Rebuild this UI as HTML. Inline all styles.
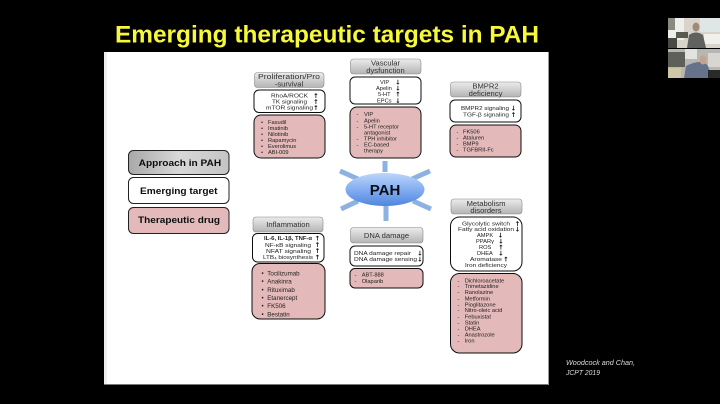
<!DOCTYPE html>
<html><head><meta charset="utf-8"><style>
html,body{margin:0;padding:0;background:#000;width:720px;height:404px;overflow:hidden}
svg{display:block}
text{font-family:"Liberation Sans",sans-serif;fill:#222}
.s{font-size:5.7px}.m{font-size:6.2px}.h{font-size:7.6px;fill:#333;text-anchor:middle}
.c{text-anchor:middle}.a{font-size:6.5px;font-weight:bold;text-anchor:middle;fill:#111;font-family:"DejaVu Sans",sans-serif}
.l{font-size:9px;font-weight:bold;fill:#111}
</style></head><body>
<svg width="720" height="404" viewBox="0 0 720 404" xmlns="http://www.w3.org/2000/svg">
<defs>
<linearGradient id="g" x1="0" y1="0" x2="0" y2="1"><stop offset="0" stop-color="#ececec"/><stop offset="1" stop-color="#b4b4b4"/></linearGradient>
<linearGradient id="g2" x1="0" y1="0" x2="1" y2="0"><stop offset="0" stop-color="#a8a8a8"/><stop offset=".5" stop-color="#d8d8d8"/><stop offset="1" stop-color="#c4c4c4"/></linearGradient>
<linearGradient id="b" x1="0" y1="0" x2="0" y2="1"><stop offset="0" stop-color="#bcd6f8"/><stop offset=".55" stop-color="#7eaaf0"/><stop offset="1" stop-color="#4f86dc"/></linearGradient>
<filter id="bl" x="-2%" y="-2%" width="104%" height="104%"><feGaussianBlur stdDeviation="0.3"/></filter>
</defs>
<rect width="720" height="404" fill="#000"/>
<text x="115" y="42.500" font-size="24" font-weight="bold" style="fill:#f8f83a" textLength="424" lengthAdjust="spacingAndGlyphs">Emerging therapeutic targets in PAH</text>
<rect x="104" y="52" width="444.500" height="333" fill="#fff"/>
<rect x="104" y="52" width="3" height="332" fill="#eee"/>
<rect x="104" y="384" width="445" height="1" fill="#777"/>
<rect x="548" y="52" width="1" height="333" fill="#999"/>

<g filter="url(#bl)">
<!-- legend -->
<rect x="128.500" y="150.500" width="100.500" height="24" rx="5" fill="url(#g2)" stroke="#222"/>
<rect x="128.500" y="177.500" width="100.500" height="26" rx="5" fill="#fff" stroke="#222"/>
<rect x="128.500" y="207.500" width="100.500" height="26" rx="5" fill="#e3b9b9" stroke="#222"/>
<text class="l" x="138.700" y="165.800" textLength="82.500" lengthAdjust="spacingAndGlyphs">Approach in PAH</text>
<text class="l" x="140" y="194" textLength="77.500" lengthAdjust="spacingAndGlyphs">Emerging target</text>
<text class="l" x="138" y="223" textLength="82" lengthAdjust="spacingAndGlyphs">Therapeutic drug</text>

<!-- Proliferation -->
<rect x="254.500" y="72.500" width="69.500" height="15" rx="3" fill="url(#g)" stroke="#888" stroke-width=".6"/>
<text class="h" x="289" y="79" textLength="62" lengthAdjust="spacingAndGlyphs">Proliferation/Pro</text>
<text class="h" x="289" y="86.500">-survival</text>
<rect x="254" y="90" width="71" height="22.500" rx="5" fill="#fff" stroke="#111"/>
<text class="s" x="271" y="97.500" textLength="37" lengthAdjust="spacingAndGlyphs">RhoA/ROCK</text><text class="a" x="316" y="98">↑</text>
<text class="s" x="272" y="103.500" textLength="35" lengthAdjust="spacingAndGlyphs">TK signaling</text><text class="a" x="316" y="104">↑</text>
<text class="s" x="266" y="109.500" textLength="47" lengthAdjust="spacingAndGlyphs">mTOR signaling</text><text class="a" x="316" y="110">↑</text>
<rect x="254" y="115" width="71" height="43" rx="7" fill="#e3b9b9" stroke="#111"/>
<g class="s">
<text class="s" x="261" y="124">•</text><text class="s" x="268" y="124">Fasudil</text>
<text class="s" x="261" y="130">•</text><text class="s" x="268" y="130">Imatinib</text>
<text class="s" x="261" y="136">•</text><text class="s" x="268" y="136">Nilotinib</text>
<text class="s" x="261" y="142">•</text><text class="s" x="268" y="142">Rapamycin</text>
<text class="s" x="261" y="148">•</text><text class="s" x="268" y="148">Everolimus</text>
<text class="s" x="261" y="154">•</text><text class="s" x="268" y="154">ABI-009</text>
</g>

<!-- Vascular -->
<rect x="350.500" y="59" width="70.500" height="15" rx="3" fill="url(#g)" stroke="#888" stroke-width=".6"/>
<text class="h" x="385.500" y="65.500">Vascular</text>
<text class="h" x="385.500" y="73">dysfunction</text>
<rect x="350" y="77" width="71" height="27" rx="5" fill="#fff" stroke="#111"/>
<text class="s" x="380" y="84">VIP</text><text class="a" x="398" y="84.500">↓</text>
<text class="s" x="376" y="90">Apelin</text><text class="a" x="398" y="90.500">↓</text>
<text class="s" x="378" y="96">5-HT</text><text class="a" x="398" y="96.500">↑</text>
<text class="s" x="377" y="102.300">EPCs</text><text class="a" x="398" y="102.800">↓</text>
<rect x="350" y="107" width="71" height="51" rx="7" fill="#e3b9b9" stroke="#111"/>
<text class="s" x="356.500" y="116">-</text><text class="s" x="364" y="116">VIP</text>
<text class="s" x="356.500" y="122.700">-</text><text class="s" x="364" y="122.700">Apelin</text>
<text class="s" x="356.500" y="128.700">-</text><text class="s" x="364" y="128.700">5-HT receptor</text>
<text class="s" x="364" y="134.700">antagonist</text>
<text class="s" x="356.500" y="140.700">-</text><text class="s" x="364" y="140.700">TPH inhibitor</text>
<text class="s" x="356.500" y="146.700">-</text><text class="s" x="364" y="146.700">EC-based</text>
<text class="s" x="364" y="152.700">therapy</text>

<!-- BMPR2 -->
<rect x="450.500" y="82" width="70.500" height="15" rx="3" fill="url(#g)" stroke="#888" stroke-width=".6"/>
<text class="h" x="485.500" y="88.500">BMPR2</text>
<text class="h" x="485.500" y="96">deficiency</text>
<rect x="450" y="100" width="71" height="22" rx="5" fill="#fff" stroke="#111"/>
<text class="s" x="461" y="110" textLength="48" lengthAdjust="spacingAndGlyphs">BMPR2 signaling</text><text class="a" x="513.500" y="110.500">↓</text>
<text class="s" x="463" y="116.300" textLength="46" lengthAdjust="spacingAndGlyphs">TGF-β signaling</text><text class="a" x="513.500" y="116.800">↑</text>
<rect x="450" y="125" width="71" height="32" rx="6" fill="#e3b9b9" stroke="#111"/>
<text class="s" x="456.500" y="133.300">-</text><text class="s" x="463" y="133.300">FK506</text>
<text class="s" x="456.500" y="139.500">-</text><text class="s" x="463" y="139.500">Ataluren</text>
<text class="s" x="456.500" y="145.700">-</text><text class="s" x="463" y="145.700">BMP9</text>
<text class="s" x="456.500" y="151.700">-</text><text class="s" x="463" y="151.700">TGFBRII-Fc</text>

<!-- PAH -->
<g stroke="#8db2e2" stroke-width="5" fill="none">
<line x1="385" y1="161" x2="385" y2="172"/>
<line x1="340" y1="171" x2="358" y2="179"/>
<line x1="430" y1="171" x2="412" y2="179"/>
<line x1="341" y1="209" x2="358" y2="201"/>
<line x1="431" y1="209" x2="413" y2="201"/>
<line x1="386" y1="204" x2="386" y2="221"/>
</g>
<ellipse cx="385" cy="189.500" rx="39.500" ry="16.500" fill="url(#b)"/>
<text x="385" y="195" font-size="15" font-weight="bold" text-anchor="middle" style="fill:#0c0c18">PAH</text>

<!-- Inflammation -->
<rect x="253" y="217" width="70" height="15" rx="3" fill="url(#g)" stroke="#888" stroke-width=".6"/>
<text class="h" x="288" y="226.800">Inflammation</text>
<rect x="252.500" y="233.500" width="71.500" height="28.500" rx="5" fill="#fff" stroke="#111"/>
<text class="s" x="264" y="240.200" font-weight="bold" textLength="48" lengthAdjust="spacingAndGlyphs">IL-6, IL-1β, TNF-α</text><text class="a" x="317.500" y="240.500">↑</text>
<text class="s" x="265" y="246.800" textLength="46" lengthAdjust="spacingAndGlyphs">NF-κB signaling</text><text class="a" x="317.500" y="247">↑</text>
<text class="s" x="266" y="252.900" textLength="45" lengthAdjust="spacingAndGlyphs">NFAT signaling</text><text class="a" x="317.500" y="253">↑</text>
<text class="s" x="263" y="259.200" textLength="50" lengthAdjust="spacingAndGlyphs">LTB₄ biosynthesis</text><text class="a" x="317.500" y="259.500">↑</text>
<rect x="252" y="263.500" width="73" height="55.500" rx="8" fill="#e3b9b9" stroke="#111"/>
<text class="m" x="261.500" y="275.500">•</text><text class="m" x="267.300" y="275.500">Tocilizumab</text>
<text class="m" x="261.500" y="283.500">•</text><text class="m" x="267.300" y="283.500">Anakinra</text>
<text class="m" x="261.500" y="292">•</text><text class="m" x="267.300" y="292">Rituximab</text>
<text class="m" x="261.500" y="300">•</text><text class="m" x="267.300" y="300">Etanercept</text>
<text class="m" x="261.500" y="308">•</text><text class="m" x="267.300" y="308">FK506</text>
<text class="m" x="261.500" y="316.300">•</text><text class="m" x="267.300" y="316.300">Bestatin</text>

<!-- DNA -->
<rect x="350.500" y="227.500" width="72.500" height="15.500" rx="3" fill="url(#g)" stroke="#888" stroke-width=".6"/>
<text class="h" x="386.500" y="238">DNA damage</text>
<rect x="350" y="246" width="73" height="20" rx="5" fill="#fff" stroke="#111"/>
<text class="s" x="354" y="255" textLength="57" lengthAdjust="spacingAndGlyphs">DNA damage repair</text><text class="a" x="420" y="255.500">↓</text>
<text class="s" x="354" y="261.200" textLength="63" lengthAdjust="spacingAndGlyphs">DNA damage sensing</text><text class="a" x="420" y="261.700">↓</text>
<rect x="350" y="268.500" width="73" height="19.500" rx="5" fill="#e3b9b9" stroke="#111"/>
<text class="s" x="354.500" y="276.700">-</text><text class="s" x="361.700" y="276.700">ABT-888</text>
<text class="s" x="354.500" y="283">-</text><text class="s" x="361.700" y="283">Olaparib</text>

<!-- Metabolism -->
<rect x="451" y="199" width="71" height="15" rx="3" fill="url(#g)" stroke="#888" stroke-width=".6"/>
<text class="h" x="486" y="205.800">Metabolism</text>
<text class="h" x="486" y="213.200">disorders</text>
<rect x="450.500" y="217" width="71.500" height="54" rx="9" fill="#fff" stroke="#111"/>
<text class="s" x="462" y="225.300" textLength="48" lengthAdjust="spacingAndGlyphs">Glycolytic switch</text><text class="a" x="517.500" y="225.800">↑</text>
<text class="s" x="458" y="231" textLength="56" lengthAdjust="spacingAndGlyphs">Fatty acid oxidation</text><text class="a" x="517.500" y="231.500">↓</text>
<text class="s" x="477" y="237">AMPK</text><text class="a" x="500.500" y="237.500">↓</text>
<text class="s" x="476" y="243">PPARγ</text><text class="a" x="501" y="243.500">↓</text>
<text class="s" x="479" y="249">ROS</text><text class="a" x="501" y="249.500">↑</text>
<text class="s" x="477" y="255">DHEA</text><text class="a" x="501" y="255.500">↓</text>
<text class="s" x="470" y="261" textLength="32" lengthAdjust="spacingAndGlyphs">Aromatase</text><text class="a" x="506" y="261.500">↑</text>
<text class="s" x="465" y="267" textLength="42" lengthAdjust="spacingAndGlyphs">Iron deficiency</text>
<rect x="450.500" y="273.500" width="71.500" height="79.500" rx="9" fill="#e3b9b9" stroke="#111"/>
<text class="s" x="457.500" y="282.300">-</text><text class="s" x="464.700" y="282.300">Dichloroacetate</text>
<text class="s" x="457.500" y="288">-</text><text class="s" x="464.700" y="288">Trimetazidine</text>
<text class="s" x="457.500" y="294">-</text><text class="s" x="464.700" y="294">Ranolazine</text>
<text class="s" x="457.500" y="300.500">-</text><text class="s" x="464.700" y="300.500">Metformin</text>
<text class="s" x="457.500" y="306.500">-</text><text class="s" x="464.700" y="306.500">Pioglitazone</text>
<text class="s" x="457.500" y="312">-</text><text class="s" x="464.700" y="312">Nitro-oleic acid</text>
<text class="s" x="457.500" y="318.500">-</text><text class="s" x="464.700" y="318.500">Febuxistat</text>
<text class="s" x="457.500" y="324.500">-</text><text class="s" x="464.700" y="324.500">Statin</text>
<text class="s" x="457.500" y="330.500">-</text><text class="s" x="464.700" y="330.500">DHEA</text>
<text class="s" x="457.500" y="336.500">-</text><text class="s" x="464.700" y="336.500">Anastrozole</text>
<text class="s" x="457.500" y="342.500">-</text><text class="s" x="464.700" y="342.500">Iron</text>
</g>

<!-- caption -->
<text x="566" y="365" font-size="7" font-style="italic" style="fill:#ddd" textLength="69" lengthAdjust="spacingAndGlyphs">Woodcock and Chan,</text>
<text x="566" y="375" font-size="7" font-style="italic" style="fill:#ddd" textLength="34" lengthAdjust="spacingAndGlyphs">JCPT 2019</text>

<!-- webcam thumbnails -->
<g filter="url(#bl)">
<rect x="668" y="18" width="52" height="30" fill="#d8d4cc"/>
<rect x="668" y="18" width="16" height="22" fill="#eeeeea"/>
<rect x="700" y="18" width="20" height="14" fill="#dfe6e6"/>
<rect x="668" y="18" width="7" height="12" fill="#8a8a80"/>
<rect x="676" y="32" width="12" height="6" fill="#5a5a50"/>
<rect x="704" y="34" width="16" height="10" fill="#f2f0ec"/>
<rect x="668" y="38" width="9" height="10" fill="#4a4844"/>
<path d="M687 48 L689 35 Q696 30 703 35 L706 48 Z" fill="#5f625e"/>
<ellipse cx="696" cy="27" rx="3.500" ry="4.500" fill="#a08a74"/>
<rect x="668" y="49" width="52" height="29" fill="#b8b6b0"/>
<rect x="668" y="52" width="17" height="15" fill="#5e5e5a"/>
<rect x="685" y="49" width="12" height="10" fill="#e2e2de"/>
<rect x="708" y="53" width="12" height="14" fill="#d8d6d0"/>
<rect x="668" y="68" width="13" height="10" fill="#cfc6a8"/>
<path d="M684 78 L686 66 Q702 58 708 66 L712 78 Z" fill="#66728a"/>
<ellipse cx="703" cy="60" rx="3.500" ry="4.500" fill="#c4a48c"/>
<rect x="708" y="70" width="12" height="8" fill="#2c2a28"/>
</g>
</svg>
</body></html>
